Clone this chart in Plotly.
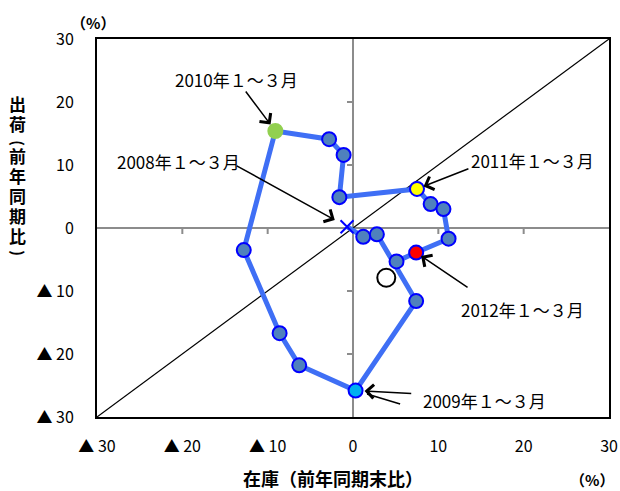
import plotly.graph_objects as go

# Inventory cycle: quarterly YoY change of inventory (x) vs. shipments (y), %
quarters = [
    "2008Q1", "2008Q2", "2008Q3", "2008Q4",
    "2009Q1", "2009Q2", "2009Q3", "2009Q4",
    "2010Q1", "2010Q2", "2010Q3", "2010Q4",
    "2011Q1", "2011Q2", "2011Q3", "2011Q4",
    "2012Q1", "2012Q2",
]
inventory = [-0.7, 1.2, 2.8, 7.4,
             0.3, -6.3, -8.6, -12.8,
             -9.1, -2.8, -1.1, -1.6,
             7.5, 9.1, 10.6, 11.2,
             7.4, 5.1]
shipments = [0.2, -1.4, -1.0, -11.6,
             -25.8, -21.8, -16.7, -3.5,
             15.4, 14.1, 11.6, 4.9,
             6.2, 3.8, 3.0, -1.7,
             -3.9, -5.3]

# separate open-circle point
extra_x = [3.9]
extra_y = [-7.9]

tick_vals = [-30, -20, -10, 0, 10, 20, 30]
tick_text = ["▲ 30", "▲ 20", "▲ 10", "0", "10", "20", "30"]

# highlighted quarters: fill colour, outline colour
highlight = {
    "2009Q1": ("#00B0F0", "#0000FF"),
    "2010Q1": ("#92D050", "#92D050"),
    "2011Q1": ("#FFFF00", "#0000FF"),
    "2012Q1": ("#FF0000", "#0000FF"),
}

# labelled quarters: label, text position, arrow tail, arrow standoff
callouts = [
    ("2008Q1", "2008年１～３月", (-20.5, 10.5), (-13.8, 10.0), 14),
    ("2009Q1", "2009年１～３月", (15.4, -27.4), (7.0, -26.3), 9),
    ("2010Q1", "2010年１～３月", (-13.6, 23.5), (-12.7, 21.9), 8),
    ("2011Q1", "2011年１～３月", (21.0, 10.7), (13.7, 9.5), 7),
    ("2012Q1", "2012年１～３月", (19.9, -13.0), (13.6, -9.6), 6),
]

FONT = "Noto Sans CJK JP"
LINE_BLUE = "#3F6FF5"

fills, outlines, symbols, sizes = [], [], [], []
for q in quarters:
    if q == quarters[0]:
        fills.append("#0000FF"); outlines.append("#0000FF")
        symbols.append("x-thin"); sizes.append(13)
    elif q in highlight:
        f, o = highlight[q]
        fills.append(f); outlines.append(o)
        symbols.append("circle"); sizes.append(14)
    else:
        fills.append("#4F81BD"); outlines.append("#0000FF")
        symbols.append("circle"); sizes.append(14)

fig = go.Figure()

# 45-degree reference line
fig.add_trace(go.Scatter(
    x=[tick_vals[0], tick_vals[-1]], y=[tick_vals[0], tick_vals[-1]],
    mode="lines", line=dict(color="black", width=1.2), hoverinfo="skip",
))

fig.add_trace(go.Scatter(
    x=inventory, y=shipments, mode="lines+markers",
    line=dict(color=LINE_BLUE, width=5),
    marker=dict(size=sizes, color=fills, symbol=symbols, opacity=1,
                line=dict(color=outlines, width=2)),
))

fig.add_trace(go.Scatter(
    x=extra_x, y=extra_y, mode="markers",
    marker=dict(size=18, color="white", opacity=1,
                line=dict(color="black", width=2)),
))

annotations = []
idx = {q: i for i, q in enumerate(quarters)}
for q, label, (tx, ty), (ax, ay), stand in callouts:
    i = idx[q]
    annotations.append(dict(
        x=tx, y=ty, xref="x", yref="y", text=label, showarrow=False,
        xanchor="center", yanchor="middle",
        font=dict(family=FONT, size=17, color="black"),
    ))
    annotations.append(dict(
        x=inventory[i], y=shipments[i], xref="x", yref="y", text="",
        showarrow=True, axref="x", ayref="y", ax=ax, ay=ay,
        arrowhead=4, arrowsize=1.8, arrowwidth=1.5, arrowcolor="black",
        standoff=stand,
    ))
# second stroke on the 2009 arrow
annotations.append(dict(
    x=inventory[idx["2009Q1"]], y=shipments[idx["2009Q1"]], xref="x", yref="y",
    text="", showarrow=True, axref="x", ayref="y", ax=5.7, ay=-28.0,
    arrowhead=0, arrowwidth=1.5, arrowcolor="black", standoff=12,
))

plot_top, plot_h, plot_left, plot_w = 39, 378.3, 97.3, 512


def paper_xy(px, py):
    return (px - plot_left) / plot_w, (plot_top + plot_h - py) / plot_h


# vertical y-axis title, one character per line; brackets drawn rotated
ytitle_chars = ["出", "荷", "(", "前", "年", "同", "期", "比", ")"]
ytitle_pix = [104, 124, 143, 155.5, 175.5, 195.5, 215.5, 235.5, 253]
for ch, py in zip(ytitle_chars, ytitle_pix):
    x, y = paper_xy(18, py)
    rotated = ch in "()"
    annotations.append(dict(
        x=x, y=y, xref="paper", yref="paper", text=ch, showarrow=False,
        xanchor="center", yanchor="middle",
        textangle=90 if rotated else 0,
        font=dict(family=FONT, size=15 if rotated else 17, color="black",
                  weight="bold"),
    ))

x, y = paper_xy(333.5, 478)
annotations.append(dict(
    x=x, y=y, xref="paper", yref="paper", text="在庫（前年同期末比）",
    showarrow=False, xanchor="center", yanchor="middle",
    font=dict(family=FONT, size=18, color="black", weight="bold"),
))
for px, py in [(93, 22.5), (592, 479.5)]:
    x, y = paper_xy(px, py)
    annotations.append(dict(
        x=x, y=y, xref="paper", yref="paper", text="（%）", showarrow=False,
        xanchor="center", yanchor="middle",
        font=dict(family=FONT, size=15, color="black", weight="bold"),
    ))

# small tick marks on the zero lines
shapes = []
for v in tick_vals:
    if v in (0, tick_vals[0], tick_vals[-1]):
        continue
    shapes.append(dict(type="line", xref="x", yref="y", ysizemode="pixel",
                       yanchor=0, x0=v, x1=v, y0=0, y1=-6,
                       line=dict(color="#8C8C8C", width=2)))
    shapes.append(dict(type="line", xref="x", yref="y", xsizemode="pixel",
                       xanchor=0, y0=v, y1=v, x0=0, x1=-6,
                       line=dict(color="#8C8C8C", width=2)))

axis_common = dict(
    range=[tick_vals[0], tick_vals[-1]], tickvals=tick_vals, ticktext=tick_text,
    showgrid=False, zeroline=True, zerolinecolor="#8C8C8C", zerolinewidth=2,
    showline=True, mirror=True, linecolor="black", linewidth=2, ticks="",
    automargin=False,
    tickfont=dict(family=FONT, size=16, color="black"),
)

fig.update_layout(
    width=620, height=491,
    margin=dict(l=97, r=11, t=39, b=74),
    paper_bgcolor="white", plot_bgcolor="white",
    showlegend=False,
    xaxis=dict(**axis_common, ticklabelstandoff=14),
    yaxis=dict(**axis_common, ticklabelstandoff=18),
    annotations=annotations, shapes=shapes,
    font=dict(family=FONT),
)

fig.write_html("out.html")
